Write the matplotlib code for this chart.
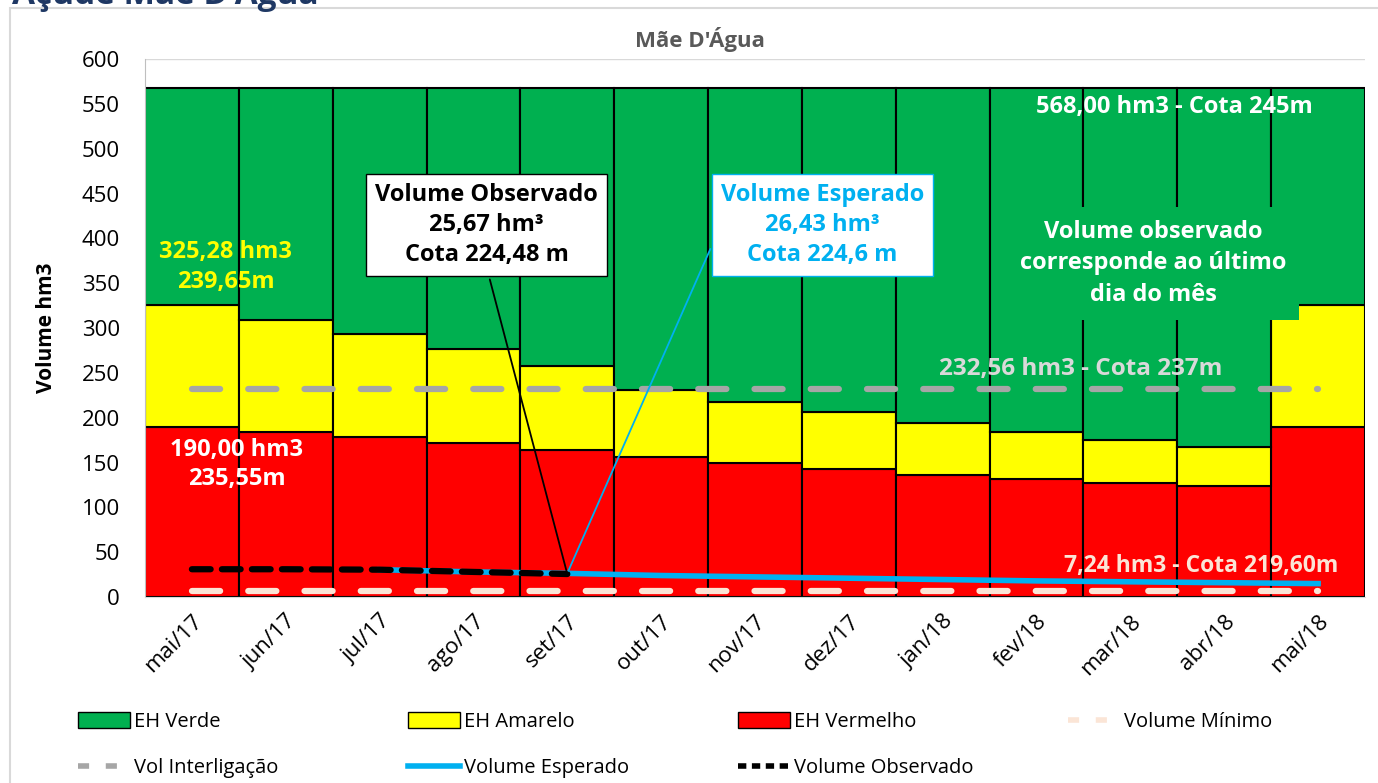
import matplotlib
matplotlib.use("Agg")
import matplotlib.pyplot as plt
from matplotlib.patches import Patch, Rectangle
from matplotlib.lines import Line2D
import numpy as np

plt.rcParams['font.family'] = ['Open Sans', 'DejaVu Sans']

# data
meses = ['mai/17', 'jun/17', 'jul/17', 'ago/17', 'set/17', 'out/17', 'nov/17',
         'dez/17', 'jan/18', 'fev/18', 'mar/18', 'abr/18', 'mai/18']
eh_vermelho = [190.0, 184, 178, 171.5, 164, 156, 149.5, 142.5, 136, 131.5, 127, 123.5, 190.0]
eh_amarelo_topo = [325.28, 309, 293, 276.5, 257.5, 231, 217.5, 206, 194, 184, 175, 167, 325.28]
eh_verde_topo = [568.0] * 13
vol_interligacao = 232.56
vol_minimo = 7.24
vol_observado = [31.0, 31.0, 30.5, 28.0, 25.67]
vol_esperado = [None, None, 30.5, 28.0, 26.43, 24.0, 22.5, 21.0, 19.5, 18.0, 17.0, 16.0, 15.0]

x = np.arange(len(meses))
amarelo = np.array(eh_amarelo_topo) - np.array(eh_vermelho)
verde = np.array(eh_verde_topo) - np.array(eh_amarelo_topo)

c_verde = '#00B050'
c_amarelo = '#FFFF00'
c_vermelho = '#FF0000'
c_cinza = '#A6A6A6'
c_minimo = '#FBE5D6'
c_azul = '#00B0F0'

fig = plt.figure(figsize=(13.78, 7.83), dpi=100)
ax = fig.add_axes([0.1052, 0.2375, 0.8854, 0.6871])

ax.bar(x, eh_vermelho, width=1.0, color=c_vermelho, edgecolor='black', linewidth=1.5, zorder=2)
ax.bar(x, amarelo, bottom=eh_vermelho, width=1.0, color=c_amarelo, edgecolor='black', linewidth=1.5, zorder=2)
ax.bar(x, verde, bottom=eh_amarelo_topo, width=1.0, color=c_verde, edgecolor='black', linewidth=1.5, zorder=2)

ax.plot([x[0], x[-1]], [vol_interligacao] * 2, color=c_cinza, lw=4.5, ls=(0, (4.5, 4.5)),
        dash_capstyle='round', zorder=4)
ax.plot([x[0], x[-1]], [vol_minimo] * 2, color=c_minimo, lw=4.5, ls=(0, (4.5, 4.5)),
        dash_capstyle='round', zorder=4)
esp = np.array([np.nan if v is None else v for v in vol_esperado])
ax.plot(x, esp, color=c_azul, lw=4, zorder=5)
ax.plot(x[:len(vol_observado)], vol_observado, color='black', lw=4.5, ls=(0, (3, 1.8)),
        dash_capstyle='round', zorder=6)

ax.set_xlim(-0.5, 12.5)
ax.set_ylim(0, 600)
ax.set_yticks(np.arange(0, 601, 50))
ax.yaxis.grid(True, color='#D9D9D9', lw=1)
ax.set_axisbelow(True)
ax.set_xticks(x)
ax.set_xticklabels(meses, rotation=45, ha='right', rotation_mode='anchor', fontsize=16)
ax.tick_params(axis='y', labelsize=16, length=0, pad=18)
ax.tick_params(axis='x', length=0, pad=10)
for s in ['top', 'right']:
    ax.spines[s].set_visible(False)
ax.spines['left'].set_color('#BFBFBF')
ax.spines['bottom'].set_color('#D9D9D9')
ax.set_ylabel('Volume hm3', fontsize=15, fontweight='bold', labelpad=18)
fig.text(700 / 1378, 1 - 40 / 783, "Mãe D'Água", fontsize=16, fontweight='bold', color='#595959',
         ha='center', va='center')

# text labels
fs = 17
ax.text(10.47, 546, '568,00 hm3 - Cota 245m', color='white', fontsize=fs, fontweight='bold',
        ha='center', va='center', zorder=7)
ax.text(0.36, 368, '325,28 hm3\n239,65m', color=c_amarelo, fontsize=fs, fontweight='bold',
        ha='center', va='center', linespacing=1.3, zorder=7)
ax.text(0.48, 148, '190,00 hm3\n235,55m', color='white', fontsize=fs, fontweight='bold',
        ha='center', va='center', linespacing=1.3, zorder=7)
ax.text(9.47, 254, '232,56 hm3 - Cota 237m', color='#D9D9D9', fontsize=17.5, fontweight='bold',
        ha='center', va='center', zorder=7)
ax.text(10.75, 35, '7,24 hm3 - Cota 219,60m', color=c_minimo, fontsize=16.5, fontweight='bold',
        ha='center', va='center', zorder=7)
ax.text(10.24, 372, 'Volume observado\ncorresponde ao último\ndia do mês', color='white',
        fontsize=fs, fontweight='bold', ha='center', va='center', linespacing=1.4, zorder=7,
        bbox=dict(boxstyle='square,pad=0.55', facecolor=c_verde, edgecolor='none'))

ax.annotate('Volume Observado\n25,67 hm³\nCota 224,48 m', xy=(x[4], vol_observado[4]),
            xytext=(3.14, 415), ha='center', va='center', fontsize=fs, fontweight='bold',
            color='black', linespacing=1.35, zorder=8,
            bbox=dict(boxstyle='square,pad=0.38', facecolor='white', edgecolor='black', lw=1),
            arrowprops=dict(arrowstyle='-', color='black', lw=1.3, relpos=(0.5, 0)))
ax.annotate('Volume Esperado\n26,43 hm³\nCota 224,6 m', xy=(x[4], vol_esperado[4]),
            xytext=(6.72, 415), ha='center', va='center', fontsize=fs, fontweight='bold',
            color=c_azul, linespacing=1.35, zorder=8,
            bbox=dict(boxstyle='square,pad=0.38', facecolor='white', edgecolor=c_azul, lw=1),
            arrowprops=dict(arrowstyle='-', color=c_azul, lw=1.3, relpos=(0, 0.5)))

# legend, one column at a time so the columns sit at fixed places
colunas = [
    [Patch(facecolor=c_verde, edgecolor='black', label='EH Verde'),
     Line2D([], [], color=c_cinza, lw=4, ls=(0, (2, 3)), label='Vol Interligação')],
    [Patch(facecolor=c_amarelo, edgecolor='black', label='EH Amarelo'),
     Line2D([], [], color=c_azul, lw=4, label='Volume Esperado')],
    [Patch(facecolor=c_vermelho, edgecolor='black', label='EH Vermelho'),
     Line2D([], [], color='black', lw=4, ls=(0, (1.5, 1)), label='Volume Observado')],
    [Line2D([], [], color=c_minimo, lw=4, ls=(0, (2, 3)), label='Volume Mínimo')],
]
col_x = [78, 408, 738, 1068]
for hs, cx in zip(colunas, col_x):
    fig.legend(handles=hs, loc='upper left', bbox_to_anchor=(cx / 1378, 1 - 712 / 783),
               frameon=False, fontsize=14.5, handlelength=2.6, handleheight=0.8,
               handletextpad=0.2, labelspacing=1.3, borderaxespad=0, borderpad=0)

# frame and cut title
fig.patches.append(Rectangle((10 / 1378, -0.01), 1.1, 1 - 8 / 783 + 0.01, transform=fig.transFigure,
                             fill=False, edgecolor='#D9D9D9', lw=1.5))
fig.text(12 / 1378, 1 - 4 / 783, "Açude Mãe D'Água", color='#1F3864', fontsize=24,
         fontweight='bold', va='baseline', ha='left')

fig.savefig('out.png', dpi=100)
